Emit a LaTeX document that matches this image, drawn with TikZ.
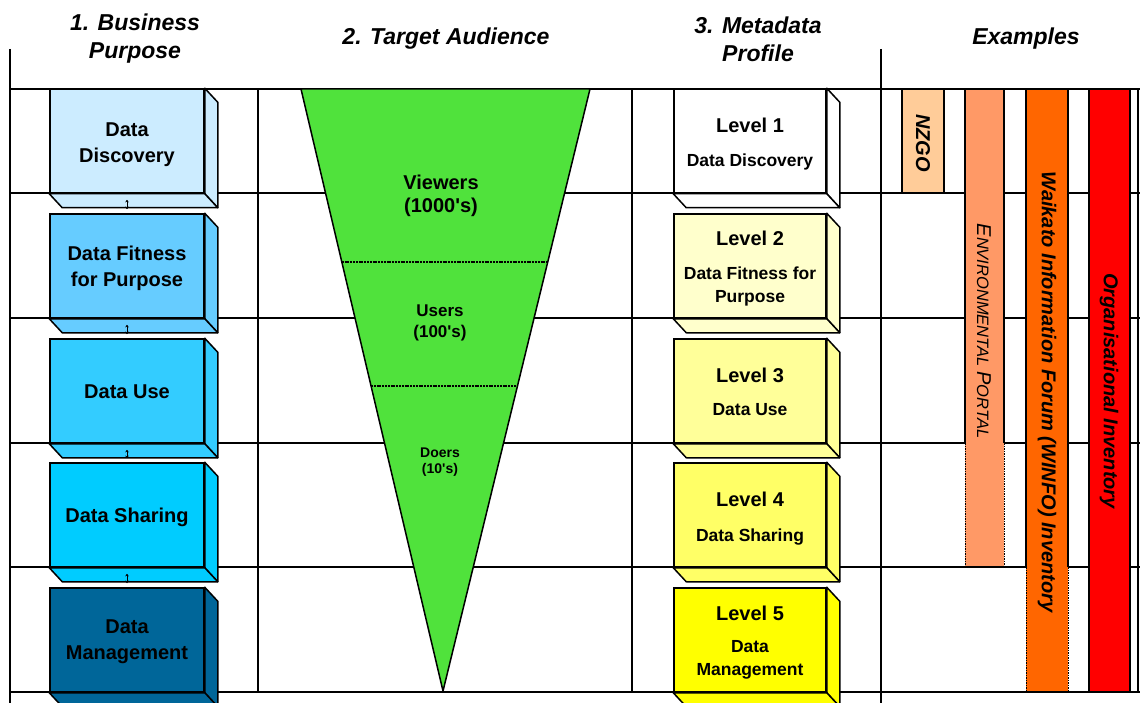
\documentclass[tikz,border=0pt]{standalone}
\usepackage{fontspec}
\setmainfont{Liberation Sans}
\usetikzlibrary{calc,arrows.meta}

% business purpose boxes (blue shades)
\definecolor{bpA}{RGB}{204,236,255}
\definecolor{bpB}{RGB}{102,204,255}
\definecolor{bpC}{RGB}{51,204,255}
\definecolor{bpD}{RGB}{0,204,255}
\definecolor{bpE}{RGB}{0,102,153}
% metadata levels (yellow shades)
\definecolor{lvA}{RGB}{255,255,255}
\definecolor{lvB}{RGB}{255,255,204}
\definecolor{lvC}{RGB}{255,255,153}
\definecolor{lvD}{RGB}{255,255,102}
\definecolor{lvE}{RGB}{255,255,0}
% audience funnel
\definecolor{funnelgreen}{RGB}{80,226,60}
% example bars
\definecolor{exA}{RGB}{255,204,153}
\definecolor{exB}{RGB}{255,153,102}
\definecolor{exC}{RGB}{255,102,0}
\definecolor{exD}{RGB}{255,0,0}

% the two side faces of a raised box
\newcommand\depthfaces[2]{%
  \filldraw[fill=#2, edge, line join=round] (#1.north east) -- ++(13,14)
    -- ([shift={(13,14)}]#1.south east) -- (#1.south east) -- cycle;
  \filldraw[fill=#2, edge, line join=round] (#1.south west) -- ++(13,14)
    -- ([shift={(13,14)}]#1.south east) -- (#1.south east) -- cycle;
}

\begin{document}
\begin{tikzpicture}[x=1pt, y=-1pt,
  grid/.style={line width=1.5pt},
  edge/.style={line width=1.5pt},
  front/.style={draw, edge, inner sep=0pt, minimum height=104pt},
  purpose/.style={front, minimum width=154pt},
  level/.style={front, minimum width=152pt},
  ptext/.style={align=center, inner sep=0pt, font=\bfseries\fontsize{20}{26}\selectfont},
  ltext/.style={align=center, inner sep=0pt, font=\bfseries\fontsize{17.5}{23}\selectfont},
  heading/.style={font=\bfseries\itshape\fontsize{23}{28}\selectfont, align=center},
  link/.style={line width=1pt, {Stealth[length=2.5pt,width=3.5pt]}-{Stealth[length=2.5pt,width=3.5pt]}},
  divider/.style={line width=1.4pt, dash pattern=on 2pt off 0.8pt},
  bar/.style={inner sep=0pt, minimum width=42pt},
  bartext/.style={rotate=-90, inner sep=0pt},
  audience/.style={align=center, font=\bfseries}
]
\useasboundingbox (0,0) rectangle (1140,703);

% ---- headings ----
\node[heading] (h1) at (135,39) {1. Business\\Purpose};
\node[heading] (h2) at (446,39) {2. Target Audience};
\node[heading] (h3) at (758,39) {3. Metadata\\Profile};
\node[heading] (h4) at (1026,39) {Examples};

% ---- table grid ----
\foreach \y in {89,193,318,443,567,692}
  \draw[grid] (10,\y) -- (1140,\y);
\draw[grid] (10,49) -- (10,703);
\draw[grid] (881,49) -- (881,703);
\draw[grid] (258,89) -- (258,692);
\draw[grid] (632,89) -- (632,692);
\draw[grid] (1138,89) -- (1138,692);

% ---- audience funnel ----
\coordinate (fl) at (301,89);
\coordinate (fr) at (590,89);
\coordinate (fa) at (443,691);
\filldraw[fill=funnelgreen, edge, line join=round] (fl) -- (fr) -- (fa) -- cycle;
\draw[divider] ($(fl)!0.2874!(fa)$) -- ($(fr)!0.2874!(fa)$);
\draw[divider] ($(fl)!0.4934!(fa)$) -- ($(fr)!0.4934!(fa)$);
\node[audience, font=\bfseries\fontsize{20}{23}\selectfont] (viewers) at (441,196)
  {Viewers\\(1000\textquotesingle s)};
\node[audience, font=\bfseries\fontsize{17}{21}\selectfont] (users) at (440,322.5)
  {Users\\(100\textquotesingle s)};
\node[audience, font=\bfseries\fontsize{14}{16}\selectfont] (doers) at (440,462)
  {Doers\\(10\textquotesingle s)};

% ---- business purpose boxes ----
\node[purpose, fill=bpA] (bp1) at (127,141) {};
\depthfaces{bp1}{bpA}
\node[ptext] (bp1t) at (127,145) {Data\\Discovery};
\node[purpose, fill=bpB] (bp2) at (127,266) {};
\depthfaces{bp2}{bpB}
\node[ptext] (bp2t) at (127,268) {Data Fitness\\for Purpose};
\node[purpose, fill=bpC] (bp3) at (127,391) {};
\depthfaces{bp3}{bpC}
\node[ptext] (bp3t) at (127,392) {Data Use};
\node[purpose, fill=bpD] (bp4) at (127,515) {};
\depthfaces{bp4}{bpD}
\node[ptext] (bp4t) at (127,517) {Data Sharing};
\node[purpose, fill=bpE] (bp5) at (127,640) {};
\depthfaces{bp5}{bpE}
\node[ptext] (bp5t) at (127,642) {Data\\Management};
\foreach \a/\b in {bp1/bp2,bp2/bp3,bp3/bp4,bp4/bp5}
  \draw[link] ([yshift=-6pt]\a.south) -- ([yshift=4pt]\b.north);

% ---- metadata profile levels ----
\node[level, fill=lvA] (lv1) at (750,141) {};
\depthfaces{lv1}{lvA}
\node[ltext] (lv1t) at (750,144)
  {{\fontsize{20}{23}\selectfont Level 1}\\[11pt]Data Discovery};
\node[level, fill=lvB] (lv2) at (750,266) {};
\depthfaces{lv2}{lvB}
\node[ltext] (lv2t) at (750,269)
  {{\fontsize{20}{23}\selectfont Level 2}\\[11pt]Data Fitness for\\Purpose};
\node[level, fill=lvC] (lv3) at (750,391) {};
\depthfaces{lv3}{lvC}
\node[ltext] (lv3t) at (750,392)
  {{\fontsize{20}{23}\selectfont Level 3}\\[10pt]Data Use};
\node[level, fill=lvD] (lv4) at (750,515) {};
\depthfaces{lv4}{lvD}
\node[ltext] (lv4t) at (750,518.5)
  {{\fontsize{20}{23}\selectfont Level 4}\\[12pt]Data Sharing};
\node[level, fill=lvE] (lv5) at (750,640) {};
\depthfaces{lv5}{lvE}
\node[ltext] (lv5t) at (750,642.5)
  {{\fontsize{20}{23}\selectfont Level 5}\\[9pt]Data\\Management};

% ---- example bars ----
\node[bar, draw, edge, fill=exA, minimum height=104pt] (nzgo) at (923,141) {};
\node[bartext, font=\bfseries\itshape\fontsize{20}{20}\selectfont] (nzgot) at (923,143) {NZGO};

\fill[exB] (965,89) rectangle (1004,567);
\draw[edge] (965,443) -- (965,89) -- (1004,89) -- (1004,443);
\draw[edge, dashed, dash pattern=on 1.5pt off 1pt, line width=1pt] (965,443) -- (965,567) (1004,443) -- (1004,567);
\draw[edge] (965,567) -- (1004,567);
\node[bartext, font=\itshape] (envt) at (984,331)
  {\fontsize{20}{20}\selectfont E\fontsize{16.5}{16.5}\selectfont NVIRONMENTAL
   \fontsize{20}{20}\selectfont P\fontsize{16.5}{16.5}\selectfont ORTAL};

\fill[exC] (1026,89) rectangle (1068,692);
\draw[edge] (1026,567) -- (1026,89) -- (1068,89) -- (1068,567);
\draw[edge, dashed, dash pattern=on 1.5pt off 1pt, line width=1pt] (1026,567) -- (1026,692) (1068,567) -- (1068,692);
\draw[edge] (1026,692) -- (1068,692);
\node[bartext, font=\bfseries\itshape\fontsize{20}{20}\selectfont] (winfo) at (1047,392)
  {Waikato Information Forum (WINFO) Inventory};

\filldraw[fill=exD, edge] (1089,89) rectangle (1130,692);
\node[bartext, font=\bfseries\itshape\fontsize{20}{20}\selectfont] (orgt) at (1109,391)
  {Organisational Inventory};
\end{tikzpicture}
\end{document}
